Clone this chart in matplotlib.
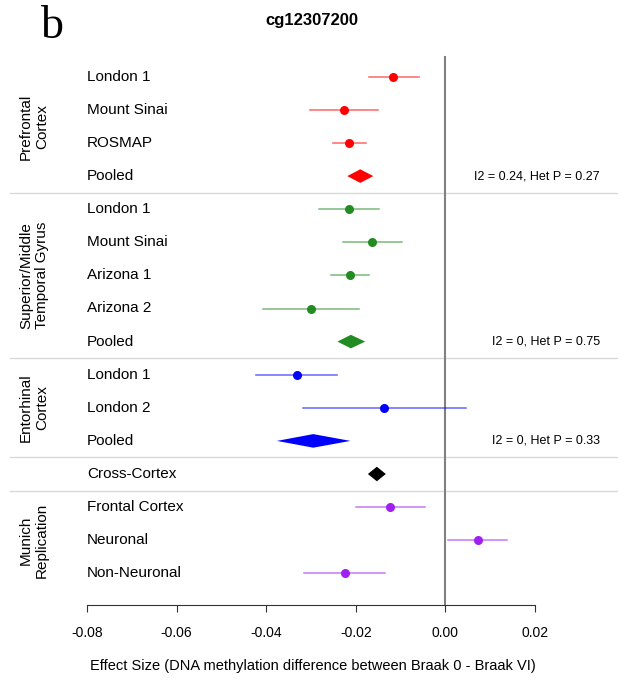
import numpy as np
import matplotlib.pyplot as plt

# forest plot data (rows top to bottom)
labels = ['London 1', 'Mount Sinai', 'ROSMAP', 'Pooled',
          'London 1', 'Mount Sinai', 'Arizona 1', 'Arizona 2', 'Pooled',
          'London 1', 'London 2', 'Pooled',
          'Cross-Cortex',
          'Frontal Cortex', 'Neuronal', 'Non-Neuronal']
est = [-0.0116, -0.0227, -0.0215, -0.0190,
       -0.0215, -0.0163, -0.0213, -0.0300, -0.0211,
       -0.0332, -0.0136, -0.0295,
       -0.0153,
       -0.0123, 0.0072, -0.0224]
lo = [-0.0170, -0.0303, -0.0252, -0.0219,
      -0.0283, -0.0229, -0.0255, -0.0407, -0.0241,
      -0.0422, -0.0318, -0.0376,
      -0.0173,
      -0.0200, 0.0006, -0.0315]
hi = [-0.0060, -0.0150, -0.0178, -0.0161,
      -0.0148, -0.0097, -0.0171, -0.0192, -0.0179,
      -0.0241, 0.0046, -0.0212,
      -0.0133,
      -0.0045, 0.0138, -0.0134]
pooled = [False, False, False, True,
          False, False, False, False, True,
          False, False, True,
          True,
          False, False, False]
group_of_row = [0, 0, 0, 0, 1, 1, 1, 1, 1, 2, 2, 2, 3, 4, 4, 4]
group_colors = ['#FF0000', '#228B22', '#0000FF', '#000000', '#A020F0']
group_names = ['Prefrontal\nCortex', 'Superior/Middle\nTemporal Gyrus',
               'Entorhinal\nCortex', None, 'Munich\nReplication']
het_rows = [3, 8, 11]
het_text = ['I2 = 0.24, Het P = 0.27', 'I2 = 0, Het P = 0.75', 'I2 = 0, Het P = 0.33']
separators = [3.5, 8.5, 11.5, 12.5]
xticks = [-0.08, -0.06, -0.04, -0.02, 0.00, 0.02]

W, H = 625, 692
fig = plt.figure(figsize=(W / 100, H / 100), dpi=100)
plt.rcParams['font.family'] = ['Liberation Sans', 'DejaVu Sans']

# axes in pixel-calibrated coords
x0px, scale = 445.4, 4480.0
row0px, rowh = 76.8, 33.1
ax_bot_px, ax_top_px = 605, 40
ax = fig.add_axes([0, (H - ax_bot_px) / H, 1, (ax_bot_px - ax_top_px) / H])
ax.set_xlim(-x0px / scale, (W - x0px) / scale)
ax.set_ylim((ax_bot_px - row0px) / rowh, (ax_top_px - row0px) / rowh)

rows = np.arange(len(labels))

for sep in separators:
    ax.plot([(10 - x0px) / scale, (617 - x0px) / scale], [sep, sep],
            color='#d9d9d9', lw=1.0, zorder=1)

ax.plot([0, 0], [(57 - row0px) / rowh, (ax_bot_px - row0px) / rowh],
        color='#808080', lw=1.5, zorder=1)

for r in rows:
    c = group_colors[group_of_row[r]]
    if pooled[r]:
        hh = 0.22 if group_of_row[r] == 3 else 0.205
        ax.fill([lo[r], est[r], hi[r], est[r]], [r, r - hh, r, r + hh],
                color=c, lw=0, zorder=3)
    else:
        ax.plot([lo[r], hi[r]], [r, r], color=c, lw=1.1, alpha=0.6, zorder=2)
        ax.plot(est[r], r, 'o', color=c, ms=6.5, mec='none', zorder=3)
    ax.text(-0.08, r, labels[r], ha='left', va='center', fontsize=11)

for g, name in enumerate(group_names):
    if name is None:
        continue
    rr = [r for r in rows if group_of_row[r] == g]
    ax.text((34 - x0px) / scale, (rr[0] + rr[-1]) / 2, name, rotation=90,
            ha='center', va='center', fontsize=11, linespacing=1.15)

for r, t in zip(het_rows, het_text):
    ax.text((600 - x0px) / scale, r, t, ha='right', va='center', fontsize=9)

for s in ['top', 'right', 'left']:
    ax.spines[s].set_visible(False)
ax.spines['bottom'].set_bounds(-0.08, 0.02)
ax.spines['bottom'].set_color('#333333')
ax.set_yticks([])
ax.set_xticks(xticks)
ax.set_xticklabels(['%.2f' % v for v in xticks], fontsize=10)
ax.tick_params(axis='x', length=5, pad=10, color='#333333')
ax.set_xlabel('Effect Size (DNA methylation difference between Braak 0 - Braak VI)',
              fontsize=10.5, labelpad=14)
ax.patch.set_visible(False)

fig.text(312 / W, 1 - 20 / H, 'cg12307200', ha='center', va='center',
         fontsize=12, fontweight='bold')
fig.text(52 / W, 1 - 27 / H, 'b', ha='center', va='center',
         fontsize=33, family='Liberation Serif')

fig.savefig('out.png', dpi=100)
